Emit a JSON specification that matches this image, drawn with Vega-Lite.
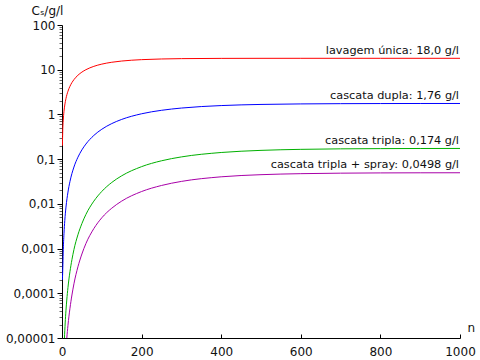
{
  "$schema": "https://vega.github.io/schema/vega-lite/v6.json",
  "width": 398,
  "height": 313,
  "autosize": {"type": "none"},
  "padding": {"left": 62, "top": 25, "right": 20, "bottom": 22},
  "config": {
    "view": {"stroke": null},
    "font": "DejaVu Sans",
    "axis": {"titleFontWeight": "normal", "grid": false, "domainColor": "#000000", "labelColor": "#111111", "titleColor": "#111111", "labelFontSize": 12, "titleFontSize": 12}
  },
  "layer": [
    {
      "data": {
        "values": [
          {"n": 1, "c": 0.2, "s": "r"}, {"n": 2, "c": 0.48, "s": "r"}, {"n": 3, "c": 0.715, "s": "r"}, {"n": 4, "c": 0.947, "s": "r"}, {"n": 5, "c": 1.176, "s": "r"}, {"n": 7, "c": 1.625, "s": "r"}, {"n": 10, "c": 2.275, "s": "r"}, {"n": 15, "c": 3.303, "s": "r"}, {"n": 20, "c": 4.263, "s": "r"}, {"n": 30, "c": 6.0, "s": "r"}, {"n": 40, "c": 7.516, "s": "r"}, {"n": 50, "c": 8.841, "s": "r"}, {"n": 60, "c": 10.0, "s": "r"}, {"n": 80, "c": 11.89, "s": "r"}, {"n": 100, "c": 13.34, "s": "r"}, {"n": 125, "c": 14.68, "s": "r"}, {"n": 150, "c": 15.63, "s": "r"}, {"n": 200, "c": 16.79, "s": "r"}, {"n": 250, "c": 17.39, "s": "r"}, {"n": 300, "c": 17.69, "s": "r"}, {"n": 400, "c": 17.92, "s": "r"}, {"n": 500, "c": 17.98, "s": "r"}, {"n": 600, "c": 17.99, "s": "r"}, {"n": 800, "c": 18.0, "s": "r"}, {"n": 1000, "c": 18.0, "s": "r"},
          {"n": 1, "c": 0.0002, "s": "b"}, {"n": 2, "c": 0.00036, "s": "b"}, {"n": 3, "c": 0.000799, "s": "b"}, {"n": 5, "c": 0.00219, "s": "b"}, {"n": 7, "c": 0.00423, "s": "b"}, {"n": 10, "c": 0.00846, "s": "b"}, {"n": 15, "c": 0.01836, "s": "b"}, {"n": 20, "c": 0.0316, "s": "b"}, {"n": 30, "c": 0.0666, "s": "b"}, {"n": 40, "c": 0.1104, "s": "b"}, {"n": 50, "c": 0.1612, "s": "b"}, {"n": 60, "c": 0.2172, "s": "b"}, {"n": 80, "c": 0.339, "s": "b"}, {"n": 100, "c": 0.4663, "s": "b"}, {"n": 125, "c": 0.6241, "s": "b"}, {"n": 150, "c": 0.7736, "s": "b"}, {"n": 200, "c": 1.034, "s": "b"}, {"n": 250, "c": 1.237, "s": "b"}, {"n": 300, "c": 1.389, "s": "b"}, {"n": 400, "c": 1.578, "s": "b"}, {"n": 500, "c": 1.673, "s": "b"}, {"n": 600, "c": 1.719, "s": "b"}, {"n": 700, "c": 1.741, "s": "b"}, {"n": 800, "c": 1.751, "s": "b"}, {"n": 900, "c": 1.756, "s": "b"}, {"n": 1000, "c": 1.758, "s": "b"},
          {"n": 5, "c": 0.00000545, "s": "g"}, {"n": 6, "c": 0.00000934, "s": "g"}, {"n": 7, "c": 0.0000147, "s": "g"}, {"n": 8, "c": 0.0000217, "s": "g"}, {"n": 10, "c": 0.0000417, "s": "g"}, {"n": 12, "c": 0.0000707, "s": "g"}, {"n": 15, "c": 0.0001344, "s": "g"}, {"n": 20, "c": 0.000305, "s": "g"}, {"n": 25, "c": 0.000567, "s": "g"}, {"n": 30, "c": 0.00095, "s": "g"}, {"n": 40, "c": 0.002034, "s": "g"}, {"n": 50, "c": 0.00362, "s": "g"}, {"n": 60, "c": 0.00578, "s": "g"}, {"n": 80, "c": 0.0115, "s": "g"}, {"n": 100, "c": 0.01896, "s": "g"}, {"n": 125, "c": 0.0301, "s": "g"}, {"n": 150, "c": 0.0424, "s": "g"}, {"n": 200, "c": 0.068, "s": "g"}, {"n": 250, "c": 0.0919, "s": "g"}, {"n": 300, "c": 0.1122, "s": "g"}, {"n": 400, "c": 0.1408, "s": "g"}, {"n": 500, "c": 0.1571, "s": "g"}, {"n": 600, "c": 0.1656, "s": "g"}, {"n": 700, "c": 0.1699, "s": "g"}, {"n": 800, "c": 0.172, "s": "g"}, {"n": 900, "c": 0.173, "s": "g"}, {"n": 1000, "c": 0.1735, "s": "g"},
          {"n": 10, "c": 0.0000054, "s": "p"}, {"n": 12, "c": 0.0000097, "s": "p"}, {"n": 15, "c": 0.0000192, "s": "p"}, {"n": 20, "c": 0.0000462, "s": "p"}, {"n": 25, "c": 0.0000916, "s": "p"}, {"n": 30, "c": 0.000163, "s": "p"}, {"n": 40, "c": 0.00039, "s": "p"}, {"n": 50, "c": 0.000756, "s": "p"}, {"n": 60, "c": 0.00129, "s": "p"}, {"n": 80, "c": 0.0028, "s": "p"}, {"n": 100, "c": 0.00488, "s": "p"}, {"n": 125, "c": 0.008, "s": "p"}, {"n": 150, "c": 0.01152, "s": "p"}, {"n": 200, "c": 0.01887, "s": "p"}, {"n": 250, "c": 0.02576, "s": "p"}, {"n": 300, "c": 0.03177, "s": "p"}, {"n": 400, "c": 0.04027, "s": "p"}, {"n": 500, "c": 0.04493, "s": "p"}, {"n": 600, "c": 0.04736, "s": "p"}, {"n": 700, "c": 0.04859, "s": "p"}, {"n": 800, "c": 0.0492, "s": "p"}, {"n": 900, "c": 0.04948, "s": "p"}, {"n": 1000, "c": 0.0496, "s": "p"}
        ]
      },
      "mark": {"type": "line", "clip": true, "strokeWidth": 1, "interpolate": "monotone"},
      "encoding": {
        "x": {
          "field": "n", "type": "quantitative",
          "scale": {"domain": [0, 1000], "nice": false, "zero": false},
          "axis": {
            "values": [0, 100, 200, 300, 400, 500, 600, 700, 800, 900, 1000],
            "format": "d",
            "labelExpr": "datum.value % 200 == 0 ? datum.label : ''",
            "labelFlush": false,
            "labelOverlap": false,
            "tickSize": -4,
            "tickColor": "#000000",
            "labelPadding": 12,
            "title": "n",
            "titleAlign": "left",
            "titleBaseline": "alphabetic",
            "titleX": 405,
            "titleY": -7,
            "titleAnchor": null
          }
        },
        "y": {
          "field": "c", "type": "quantitative",
          "scale": {"type": "log", "domain": [0.00001, 100], "nice": false},
          "axis": {
            "values": [0.00001, 0.00002, 0.00003, 0.00004, 0.00005, 0.00006, 0.00007, 0.00008, 0.00009, 0.0001, 0.0002, 0.0003, 0.0004, 0.0005, 0.0006, 0.0007, 0.0008, 0.0009, 0.001, 0.002, 0.003, 0.004, 0.005, 0.006, 0.007, 0.008, 0.009, 0.01, 0.02, 0.03, 0.04, 0.05, 0.06, 0.07, 0.08, 0.09, 0.1, 0.2, 0.3, 0.4, 0.5, 0.6, 0.7, 0.8, 0.9, 1, 2, 3, 4, 5, 6, 7, 8, 9, 10, 20, 30, 40, 50, 60, 70, 80, 90, 100],
            "labelExpr": "abs(log(datum.value)/LN10 - round(log(datum.value)/LN10)) < 0.001 ? (datum.value >= 1 ? format(datum.value, 'd') : replace(format(datum.value, '.' + round(-log(datum.value)/LN10) + 'f'), '.', ',')) : ''",
            "labelOverlap": false,
            "labelPadding": 2,
            "tickSize": {"condition": {"test": "abs(log(datum.value)/LN10 - round(log(datum.value)/LN10)) < 0.001", "value": 5}, "value": 3},
            "tickColor": {"condition": {"test": "abs(log(datum.value)/LN10 - round(log(datum.value)/LN10)) < 0.001", "value": "#000000"}, "value": "#666666"},
            "title": "Cₛ/g/l",
            "titleAngle": 0,
            "titleAlign": "left",
            "titleBaseline": "alphabetic",
            "titleX": -31,
            "titleY": -11,
            "titleAnchor": null
          }
        },
        "color": {
          "field": "s", "type": "nominal",
          "scale": {"domain": ["r", "b", "g", "p"], "range": ["#ff0000", "#0000ff", "#00b000", "#a800a8"]},
          "legend": null
        }
      }
    },
    {
      "data": {
        "values": [
          {"n": 1000, "c": 18.0, "label": "lavagem única: 18,0 g/l"},
          {"n": 1000, "c": 1.758, "label": "cascata dupla: 1,76 g/l"},
          {"n": 1000, "c": 0.1735, "label": "cascata tripla: 0,174 g/l"},
          {"n": 1000, "c": 0.0496, "label": "cascata tripla + spray: 0,0498 g/l"}
        ]
      },
      "mark": {"type": "text", "align": "right", "baseline": "alphabetic", "dx": -1, "dy": -4.5, "fontSize": 11.3, "color": "#111111"},
      "encoding": {
        "x": {"field": "n", "type": "quantitative"},
        "y": {"field": "c", "type": "quantitative"},
        "text": {"field": "label"}
      }
    }
  ]
}
